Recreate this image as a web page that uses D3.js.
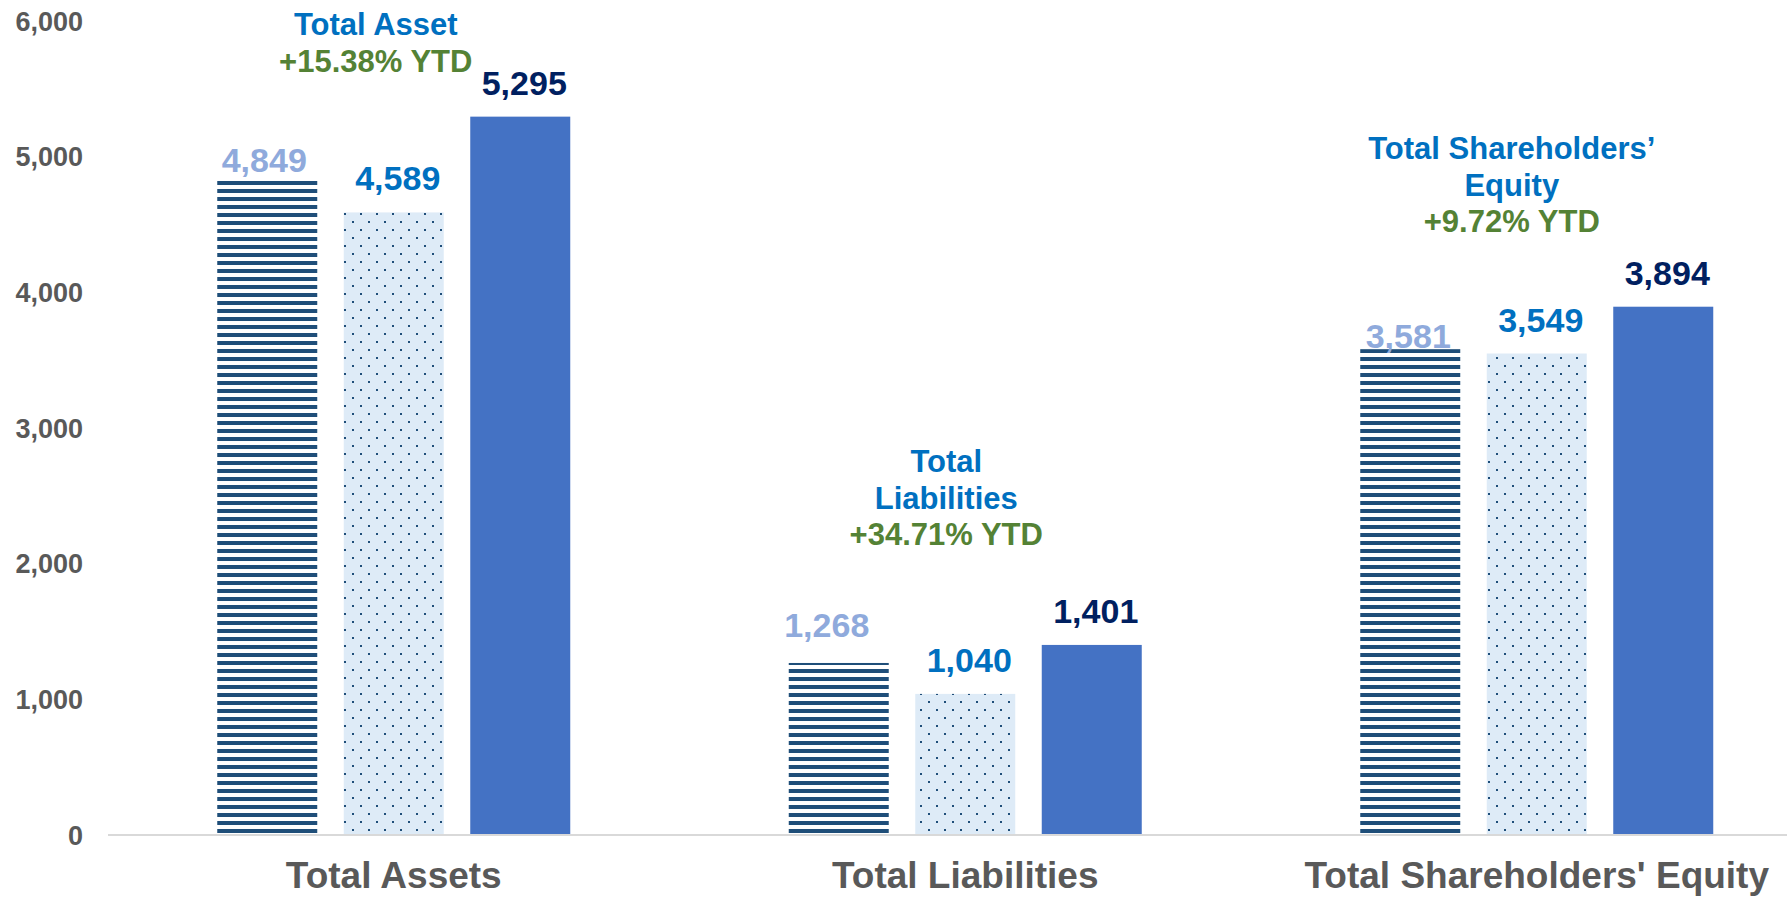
<!DOCTYPE html>
<html>
<head>
<meta charset="utf-8">
<style>
  body { margin: 0; background: #fff; }
  svg { display: block; }
</style>
</head>
<body>
<svg width="1787" height="897" font-family="'Liberation Sans', Arial, sans-serif" font-weight="bold"></svg>

<script src="https://cdn.jsdelivr.net/npm/d3@7"></script>
<script>
// data
var categories = ["Total Assets", "Total Liabilities", "Total Shareholders' Equity"];
var seriesKeys = ["p1", "p2", "p3"];
var p1Values = [4849, 1268, 3581];
var p2Values = [4589, 1040, 3549];
var p3Values = [5295, 1401, 3894];
var yTicks = [0, 1000, 2000, 3000, 4000, 5000, 6000];
var noteTitles = [["Total Asset"], ["Total", "Liabilities"], ["Total Shareholders\u2019", "Equity"]];
var noteYtd = ["+15.38% YTD", "+34.71% YTD", "+9.72% YTD"];

var values = [p1Values, p2Values, p3Values];

var svg = d3.select("svg"),
    width = +svg.attr("width"),
    height = +svg.attr("height");

var x = d3.scaleBand().domain(categories).range([108, 1822.5]).padding(0);
var xs = d3.scalePoint().domain(seriesKeys).range([-126.5, 126.5]);
var y = d3.scaleLinear().domain([0, 6000]).range([835, 21]);
var barW = 100;
var fmt = d3.format(",");

var fills = { p1: "url(#stripes)", p2: "url(#dots)", p3: "#4472C4" };
var labelColor = { p1: "#8FAADC", p2: "#0070C0", p3: "#002060" };
// hand-placed labels of the first series in the original
var p1Nudge = [[-7, 17], [-16, -4], [-6, 21]];

var defs = svg.append("defs");
var st = defs.append("pattern")
    .attr("id", "stripes")
    .attr("patternUnits", "userSpaceOnUse")
    .attr("x", 0).attr("y", 829)
    .attr("width", 8).attr("height", 8);
st.append("rect").attr("width", 8).attr("height", 8).attr("fill", "#fff");
st.append("rect").attr("width", 8).attr("height", 4).attr("fill", "#1F4E79");

var dt = defs.append("pattern")
    .attr("id", "dots")
    .attr("patternUnits", "userSpaceOnUse")
    .attr("x", 0).attr("y", 829)
    .attr("width", 16).attr("height", 16);
dt.append("rect").attr("width", 16).attr("height", 16).attr("fill", "#DEEBF7");
dt.append("rect").attr("x", 0).attr("y", 0).attr("width", 2).attr("height", 2).attr("fill", "#1F4E79");
dt.append("rect").attr("x", 8).attr("y", 8).attr("width", 2).attr("height", 2).attr("fill", "#1F4E79");

// y tick labels
svg.append("g")
  .selectAll("text")
  .data(yTicks)
  .enter().append("text")
    .attr("x", 83)
    .attr("y", function(d) { return y(d); })
    .attr("dy", "0.36em")
    .attr("text-anchor", "end")
    .attr("font-size", 27)
    .attr("fill", "#595959")
    .text(function(d) { return fmt(d); });

// bars
var rows = [];
categories.forEach(function(c, i) {
  seriesKeys.forEach(function(k, j) {
    rows.push({ cat: c, ci: i, key: k, value: values[j][i] });
  });
});

var cx = function(d) { return x(d.cat) + x.bandwidth() / 2 + xs(d.key); };

svg.append("g")
  .selectAll("rect")
  .data(rows)
  .enter().append("rect")
    .attr("x", function(d) { return cx(d) - barW / 2; })
    .attr("y", function(d) { return y(d.value); })
    .attr("width", barW)
    .attr("height", function(d) { return y(0) - y(d.value); })
    .attr("fill", function(d) { return fills[d.key]; });

// axis line
svg.append("line")
    .attr("x1", 108).attr("x2", width)
    .attr("y1", y(0)).attr("y2", y(0))
    .attr("stroke", "#D9D9D9")
    .attr("stroke-width", 2);

// value labels
svg.append("g")
  .selectAll("text")
  .data(rows)
  .enter().append("text")
    .attr("x", function(d) { return cx(d) + 4 + (d.key == "p1" ? p1Nudge[d.ci][0] : 0); })
    .attr("y", function(d) { return y(d.value) - 22 + (d.key == "p1" ? p1Nudge[d.ci][1] : 0); })
    .attr("text-anchor", "middle")
    .attr("font-size", 34)
    .attr("fill", function(d) { return labelColor[d.key]; })
    .text(function(d) { return fmt(d.value); });

// category labels
svg.append("g")
  .selectAll("text")
  .data(categories)
  .enter().append("text")
    .attr("x", function(d) { return x(d) + x.bandwidth() / 2; })
    .attr("y", 888)
    .attr("text-anchor", "middle")
    .attr("font-size", 37)
    .attr("fill", "#595959")
    .text(function(d) { return d; });

// YTD call-outs
var noteBase = [71.5, 545, 232];
var noteShift = [-18, -19, -25];
var lineH = 36.5;
categories.forEach(function(c, i) {
  var g = svg.append("g")
      .attr("transform", "translate(" + (x(c) + x.bandwidth() / 2 + noteShift[i]) + "," + noteBase[i] + ")")
      .attr("text-anchor", "middle")
      .attr("font-size", 31);
  var n = noteTitles[i].length;
  noteTitles[i].forEach(function(t, k) {
    g.append("text")
        .attr("y", -(n - k) * lineH)
        .attr("fill", "#0070C0")
        .text(t);
  });
  g.append("text")
      .attr("y", 0)
      .attr("fill", "#548235")
      .text(noteYtd[i]);
});
</script>
</body>
</html>
